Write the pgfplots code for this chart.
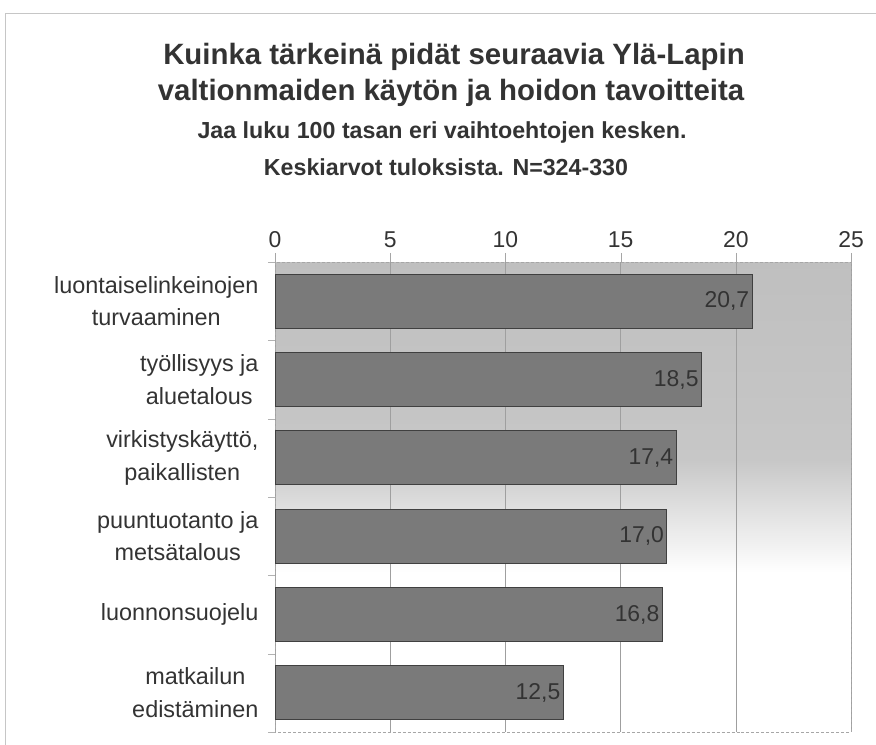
\documentclass[border=0pt]{standalone}
\usepackage{fontspec}
\setmainfont{Liberation Sans}
\usepackage{pgfplots}
\pgfplotsset{compat=1.18}

\definecolor{txt}{gray}{0.2}
\definecolor{barfill}{gray}{0.48}

% plot background: grey at top, fading to white lower down
\pgfdeclareverticalshading{plotbg}{100bp}{
  color(0bp)=(white); color(42bp)=(white);
  color(54bp)=(black!22); color(75bp)=(black!25); color(100bp)=(black!25)}

\begin{document}
\begin{tikzpicture}
\path[use as bounding box] (0,0) rectangle (876bp,745bp);
\draw[gray!45, line width=0.8bp] (5bp,0) -- (5bp,732bp) -- (876bp,732bp);

\node[txt, font=\fontsize{29.5}{33}\selectfont\bfseries] at (454bp,688bp) {Kuinka tärkeinä pidät seuraavia Ylä-Lapin};
\node[txt, font=\fontsize{29.5}{33}\selectfont\bfseries] at (451bp,652bp) {valtionmaiden käytön ja hoidon tavoitteita};
\node[txt, font=\fontsize{23.3}{26}\selectfont\bfseries] at (442bp,612bp) {Jaa luku 100 tasan eri vaihtoehtojen kesken.};
\node[txt, font=\fontsize{23.3}{26}\selectfont\bfseries] at (446bp,578bp) {Keskiarvot tuloksista. N=324-330};

\begin{axis}[
    at={(275bp,13bp)}, anchor=south west,
    scale only axis,
    width=576bp, height=470bp,
    xbar,
    bar width=54bp,
    xmin=0, xmax=25,
    ymin=-0.5, ymax=5.5,
    y dir=reverse,
    xtick={0,5,...,25},
    xtick pos=right, xticklabel pos=right,
    ytick={0,...,5},
    yticklabels={{luontaiselinkeinojen\\turvaaminen},{työllisyys ja\\aluetalous},{virkistyskäyttö,\\paikallisten},{puuntuotanto ja\\metsätalous},{luonnonsuojelu},{matkailun\\edistäminen}},
    ytick pos=left,
    major y tick style={draw=none},
    minor ytick={-0.5,0.5,...,5.5},
    minor y tick style={gray!60},
    minor tick length=7bp,
    tick align=outside,
    major tick length=9bp,
    major x tick style={gray!70},
    xmajorgrids=true,
    grid style={gray!75, line width=0.5bp},
    axis line style={gray!70, densely dashed},
    axis background/.style={shading=plotbg},
    xticklabel style={txt, font=\fontsize{23}{26}\selectfont, yshift=2bp},
    yticklabel style={txt, font=\fontsize{23.5}{33}\selectfont, align=center, xshift=-4bp},
    /pgf/number format/assume math mode=true,
    nodes near coords,
    nodes near coords style={txt, font=\fontsize{23}{26}\selectfont, anchor=east, xshift=1bp,
      /pgf/number format/.cd, fixed, fixed zerofill, precision=1, use comma},
]
\addplot[fill=barfill, draw=black!75, line width=0.8bp] coordinates {
    (20.7,0)
    (18.5,1)
    (17.4,2)
    (17.0,3)
    (16.8,4)
    (12.5,5)
};
\end{axis}
\end{tikzpicture}
\end{document}
